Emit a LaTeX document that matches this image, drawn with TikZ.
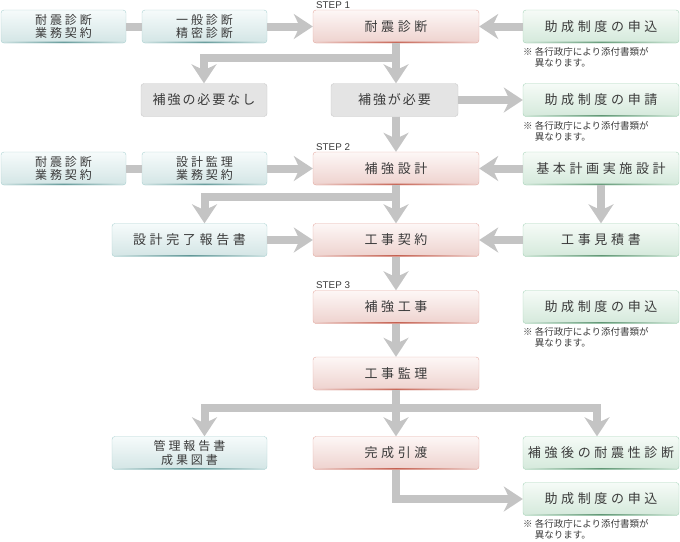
\documentclass[tikz,border=0pt]{standalone}
\usepackage{fontspec}
\setmainfont{Liberation Sans}
\newfontfamily\jpbox[LetterSpace=28]{Noto Sans CJK JP}
\newfontfamily\jpgray[LetterSpace=15]{Noto Sans CJK JP}
\newfontfamily\jptwo[LetterSpace=24]{Noto Sans CJK JP}
\newfontfamily\jpnote{Noto Sans CJK JP}
\usetikzlibrary{arrows.meta}

\definecolor{flowgray}{RGB}{196,196,196}
\definecolor{txt}{RGB}{58,58,58}
\definecolor{pinkD}{RGB}{228,172,164}
\definecolor{pinkT}{RGB}{253,247,246}
\definecolor{pinkB}{RGB}{238,210,206}
\definecolor{pinkA}{RGB}{196,96,80}
\definecolor{tealD}{RGB}{172,210,210}
\definecolor{tealT}{RGB}{246,251,251}
\definecolor{tealB}{RGB}{211,229,229}
\definecolor{tealA}{RGB}{96,150,150}
\definecolor{greenD}{RGB}{168,212,186}
\definecolor{greenT}{RGB}{246,251,247}
\definecolor{greenB}{RGB}{212,233,219}
\definecolor{greenA}{RGB}{96,150,116}
\definecolor{grayD}{RGB}{200,200,200}
\definecolor{grayF}{RGB}{228,228,228}

\tikzset{
  box/.style={rounded corners=3pt, minimum height=33pt, inner sep=0pt, text=txt,
    font=\jpbox\fontsize{13}{15}\selectfont},
  accent/.style={path picture={\shade[left color=#1B, right color=#1B, middle color=#1A]
    ([yshift=1.3pt]path picture bounding box.south west) rectangle (path picture bounding box.south east);}},
  pinkbox/.style={box, draw=pinkD, top color=pinkT, bottom color=pinkB, accent=pink, minimum width=166pt},
  greenbox/.style={box, draw=greenD, top color=greenT, bottom color=greenB, accent=green, minimum width=156pt},
  tealbox/.style={box, draw=tealD, top color=tealT, bottom color=tealB, accent=teal, minimum width=125pt},
  tealtwo/.style={tealbox, align=center, font=\jptwo\fontsize{12}{13.5}\selectfont},
  graybox/.style={box, draw=grayD, fill=grayF, font=\jpgray\fontsize{13}{15}\selectfont},
  note/.style={anchor=north west, inner sep=0pt, align=left, text=txt,
    font=\jpnote\fontsize{9.5}{11}\selectfont},
  steplabel/.style={anchor=base west, inner sep=0pt, text=txt, font=\fontsize{9.8}{11}\selectfont},
  flow/.style={draw=flowgray, line width=8pt, -{Stealth[length=19pt, width=25pt, inset=6pt]}},
  bar/.style={draw=flowgray, line width=8pt}
}

\newcommand{\tenpu}{※\ 各行政庁により添付書類が\\\phantom{※\ }異なります。}

\begin{document}
\begin{tikzpicture}[x=1pt, y=-1pt]
\useasboundingbox (0,0) rectangle (680,541);

\node[tealtwo] (taishinA) at (63.5,26.5) {耐震診断\\業務契約};
\node[tealtwo] (ippan) at (204.5,26.5) {一般診断\\精密診断};
\node[pinkbox] (shindan) at (396,26.5) {耐震診断};
\node[greenbox] (moushikomiA) at (601,26.5) {助成制度の申込};
\node[note] (noteA) at (523,47) {\tenpu};
\node[steplabel] (step1) at (316,8) {STEP 1};

\node[graybox, minimum width=126pt] (fuyou) at (204,100) {補強の必要なし};
\node[graybox, minimum width=127pt] (hitsuyou) at (394.5,100) {補強が必要};
\node[greenbox] (shinsei) at (601,100) {助成制度の申請};
\node[note] (noteB) at (523,121) {\tenpu};

\node[tealtwo] (taishinB) at (63.5,168.5) {耐震診断\\業務契約};
\node[tealtwo] (kanriB) at (204.5,168.5) {設計監理\\業務契約};
\node[pinkbox] (sekkei) at (396,168.5) {補強設計};
\node[greenbox] (kihon) at (601,168.5) {基本計画実施設計};
\node[steplabel] (step2) at (316,150) {STEP 2};

\node[tealbox, minimum width=155pt] (kanryou) at (189.5,240) {設計完了報告書};
\node[pinkbox] (keiyaku) at (396,240) {工事契約};
\node[greenbox] (mitsumori) at (601,240) {工事見積書};

\node[pinkbox] (kouji) at (396,307) {補強工事};
\node[greenbox] (moushikomiB) at (601,307) {助成制度の申込};
\node[note] (noteC) at (523,327) {\tenpu};
\node[steplabel] (step3) at (316,288) {STEP 3};

\node[pinkbox] (kanri) at (396,373.5) {工事監理};

\node[tealtwo, minimum width=155pt] (houkoku) at (189.5,453) {管理報告書\\成果図書};
\node[pinkbox] (hikiwatashi) at (396,453) {完成引渡};
\node[greenbox] (shindanC) at (601,453) {補強後の耐震性診断};

\node[greenbox] (moushikomiC) at (601,499) {助成制度の申込};
\node[note] (noteD) at (523,519) {\tenpu};

\draw[bar] (taishinA) -- (ippan);
\draw[flow] (ippan) -- (shindan);
\draw[flow] (moushikomiA) -- (shindan);
\draw[flow] (shindan.south) -- ++(0,15) -| (fuyou.north);
\draw[flow] (shindan) -- (shindan |- hitsuyou.north);
\draw[flow] (hitsuyou) -- (shinsei);
\draw[flow] (sekkei |- hitsuyou.south) -- (sekkei.north);

\draw[bar] (taishinB) -- (kanriB);
\draw[flow] (kanriB) -- (sekkei);
\draw[flow] (kihon) -- (sekkei);
\draw[flow] (kihon) -- (mitsumori);
\draw[flow] (sekkei.south) -- ++(0,12) -| ([xshift=15pt]kanryou.north);
\draw[flow] (sekkei) -- (keiyaku);
\draw[flow] (kanryou) -- (keiyaku);
\draw[flow] (mitsumori) -- (keiyaku);

\draw[flow] (keiyaku) -- (kouji);
\draw[flow] (kouji) -- (kanri);
\draw[flow] (kanri.south) -- ++(0,18) -| ([xshift=15pt]houkoku.north);
\draw[flow] (kanri.south) -- ++(0,18) -| ([xshift=-4pt]shindanC.north);
\draw[flow] (kanri) -- (hikiwatashi);
\draw[flow] (hikiwatashi.south) |- (moushikomiC.west);
\end{tikzpicture}
\end{document}
